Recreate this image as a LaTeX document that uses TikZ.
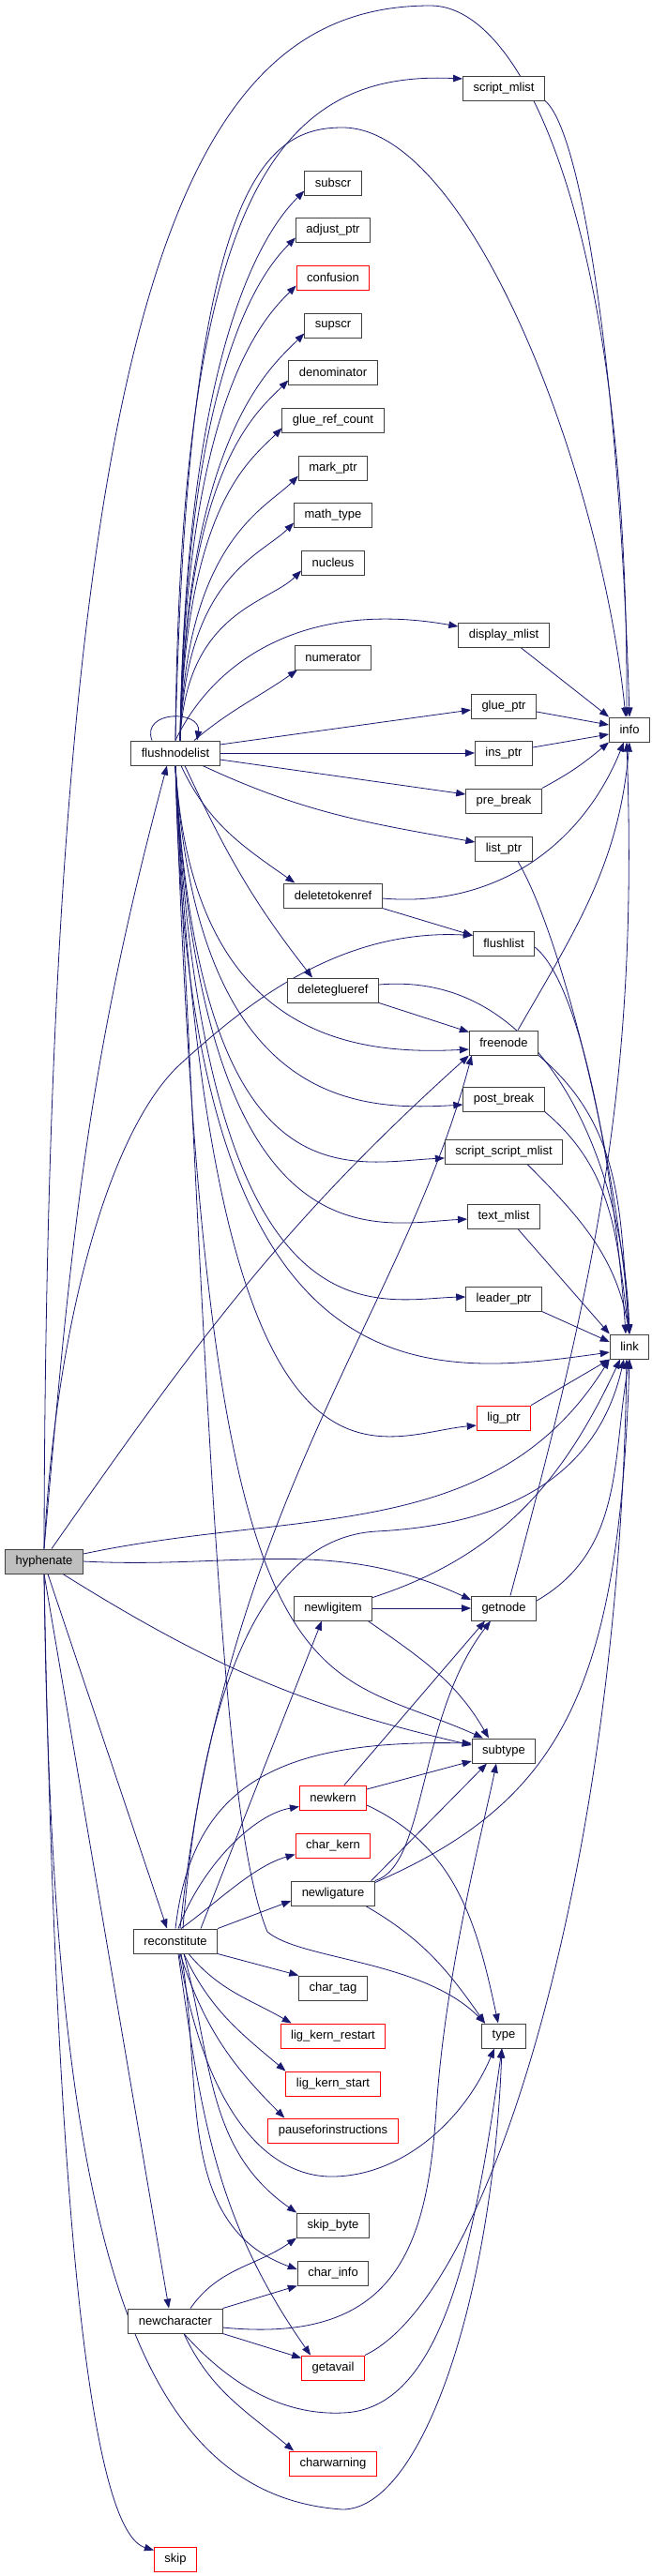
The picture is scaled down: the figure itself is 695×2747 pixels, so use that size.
\documentclass[tikz,border=0pt]{standalone}
\usepackage{fontspec}
\setmainfont{Liberation Sans}
\usetikzlibrary{arrows.meta, backgrounds}
\definecolor{eblue}{RGB}{25,25,112}
\definecolor{bgray}{RGB}{191,191,191}
\definecolor{nred} {RGB}{255,0,0}
\definecolor{bline}{RGB}{64,64,64}
\tikzset{
  % plain function box
  FN/.style={rectangle,draw=bline,fill=white,font=\fontsize{13}{15}\selectfont,
             inner xsep=11pt,inner ysep=0pt,minimum height=26pt,line width=1pt},
  % truncated function box (red frame)
  RN/.style={FN,draw=nred},
  % the function this graph is about
  HN/.style={FN,fill=bgray},
  % call edge
  Arr/.style={-{Triangle[length=10pt,width=7.5pt]},line width=0.8pt,color=eblue},
}

\begin{document}
\begin{tikzpicture}[x=1pt,y=1pt]
  \useasboundingbox (0,0) rectangle (695,-2747);
  % left column
  \node[HN] at (47,-1665)  (hyph)    {hyphenate};
  \node[FN] at (187,-803)  (fnl)     {flushnodelist};
  \node[FN] at (187,-2070) (recon)   {reconstitute};
  \node[FN] at (187,-2475) (newchar) {newcharacter};
  \node[RN] at (187,-2729) (skip)    {skip};
  % middle column
  \node[FN] at (355,-195)  (subscr)     {subscr};
  \node[FN] at (355,-245)  (adjptr)     {adjust\_ptr};
  \node[RN] at (355,-296)  (confusion)  {confusion};
  \node[FN] at (355,-347)  (supscr)     {supscr};
  \node[FN] at (355,-397)  (denom)      {denominator};
  \node[FN] at (355,-448)  (gluerc)     {glue\_ref\_count};
  \node[FN] at (355,-499)  (markptr)    {mark\_ptr};
  \node[FN] at (355,-549)  (mathtype)   {math\_type};
  \node[FN] at (355,-600)  (nucleus)    {nucleus};
  \node[FN] at (355,-701)  (numer)      {numerator};
  \node[FN] at (355,-955)  (deltok)     {deletetokenref};
  \node[FN] at (355,-1056) (delglue)    {deleteglueref};
  \node[FN] at (355,-1715) (newligitem) {newligitem};
  \node[RN] at (355,-1917) (newkern)    {newkern};
  \node[RN] at (355,-1968) (charkern)   {char\_kern};
  \node[FN] at (355,-2019) (newlig)     {newligature};
  \node[FN] at (355,-2120) (chartag)    {char\_tag};
  \node[RN] at (355,-2171) (ligkr)      {lig\_kern\_restart};
  \node[RN] at (355,-2222) (ligks)      {lig\_kern\_start};
  \node[RN] at (355,-2272) (pause)      {pauseforinstructions};
  \node[FN] at (355,-2373) (skipbyte)   {skip\_byte};
  \node[FN] at (355,-2424) (charinfo)   {char\_info};
  \node[RN] at (355,-2525) (getavail)   {getavail};
  \node[RN] at (355,-2627) (charwarn)   {charwarning};
  % right column
  \node[FN] at (537,-94)   (scriptml)  {script\_mlist};
  \node[FN] at (537,-677)  (displayml) {display\_mlist};
  \node[FN] at (537,-753)  (glueptr)   {glue\_ptr};
  \node[FN] at (537,-803)  (insptr)    {ins\_ptr};
  \node[FN] at (537,-854)  (prebreak)  {pre\_break};
  \node[FN] at (537,-905)  (listptr)   {list\_ptr};
  \node[FN] at (537,-1006) (flushlist) {flushlist};
  \node[FN] at (537,-1112) (freenode)  {freenode};
  \node[FN] at (537,-1172) (postbreak) {post\_break};
  \node[FN] at (537,-1228) (ssml)      {script\_script\_mlist};
  \node[FN] at (537,-1297) (textml)    {text\_mlist};
  \node[FN] at (537,-1385) (leaderptr) {leader\_ptr};
  \node[RN] at (537,-1512) (ligptr)    {lig\_ptr};
  \node[FN] at (537,-1715) (getnode)   {getnode};
  \node[FN] at (537,-1867) (subtype)   {subtype};
  \node[FN] at (537,-2171) (type)      {type};
  % far right
  \node[FN] at (671,-778)  (info) {info};
  \node[FN] at (671,-1436) (link) {link};

  \begin{scope}[on background layer]
    % hyphenate
    \draw[Arr] (hyph.north) .. controls (50,-300) and (200,-6) .. (459,-6)
               .. controls (560,-6) and (670,-250) .. ([xshift=-3pt]info.north);
    \draw[Arr] (hyph.north) to[out=85,in=-105] ([xshift=-9pt]fnl.south);
    \draw[Arr] (hyph.north) .. controls (60,-1400) and (120,-1200) .. (193,-1134)
               .. controls (260,-1073) and (360,-990) .. ([yshift=-5pt]flushlist.north west);
    \draw[Arr] ([xshift=8pt]hyph.north) to[out=55,in=-138] (freenode.south west);
    \draw[Arr] ([yshift=8pt]hyph.east) to[out=12,in=-122] (link.south west);
    \draw[Arr] (hyph.east) to[out=-3,in=155] ([yshift=9pt]getnode.west);
    \draw[Arr] ([xshift=20pt]hyph.south) to[out=-32,in=167] ([yshift=6pt]subtype.west);
    \draw[Arr] ([xshift=4pt]hyph.south) -- ([xshift=-9pt]recon.north);
    \draw[Arr] (hyph.south) -- ([xshift=-7pt]newchar.north);
    \draw[Arr] (hyph.south) .. controls (55,-2350) and (130,-2660) .. (365,-2676)
               .. controls (450,-2676) and (525,-2450) .. ([xshift=-2pt]type.south);
    \draw[Arr] (hyph.south) .. controls (60,-2400) and (100,-2700) .. ([yshift=-4pt]skip.north west);

    % flushnodelist, upwards
    \draw[Arr] ([xshift=-25pt]fnl.north) .. controls (150,-757) and (215,-757) .. ([xshift=23pt]fnl.north);
    \draw[Arr] (fnl.north) .. controls (192,-200) and (300,-75) .. ([yshift=10pt]scriptml.west);
    \draw[Arr] (fnl.north) .. controls (200,-200) and (280,-136) .. (365,-136)
               .. controls (500,-136) and (640,-500) .. ([xshift=-4pt]info.north);
    \foreach \t/\h in {subscr/440,adjptr/400,confusion/365,supscr/325,denom/290,
                       gluerc/250,markptr/212,mathtype/175,nucleus/137}
      \draw[Arr] ([xshift=5pt]fnl.north) .. controls +(6,\h) and +(-35,-35) .. ([yshift=5pt]\t.south west);
    \draw[Arr] (fnl.north) .. controls (230,-700) and (330,-640) .. ([yshift=9pt]displayml.west);
    \draw[Arr] ([xshift=20pt]fnl.north) to[out=40,in=-145] ([xshift=3pt]numer.south west);
    \draw[Arr] ([yshift=9pt]fnl.east) -- ([yshift=-4pt]glueptr.west);
    \draw[Arr] (fnl.east) -- (insptr.west);
    \draw[Arr] ([yshift=-7pt]fnl.east) -- ([yshift=7pt]prebreak.west);
    \draw[Arr] ([xshift=29pt]fnl.south) to[out=-25,in=170] ([yshift=7pt]listptr.west);

    % flushnodelist, downwards
    \draw[Arr] ([xshift=6pt]fnl.south) to[out=-65,in=145] ([xshift=12pt]deltok.north west);
    \draw[Arr] ([xshift=10pt]fnl.south) to[out=-65,in=128] ([xshift=-22pt]delglue.north);
    \draw[Arr] (fnl.south) .. controls (205,-1110) and (380,-1125) .. ([yshift=-7pt]freenode.west);
    \draw[Arr] (fnl.south) .. controls (210,-1180) and (380,-1185) .. ([yshift=-6pt]postbreak.west);
    \draw[Arr] (fnl.south) .. controls (212,-1290) and (370,-1240) .. ([yshift=-7pt]ssml.west);
    \draw[Arr] (fnl.south) .. controls (214,-1360) and (400,-1305) .. ([yshift=-3pt]textml.west);
    \draw[Arr] (fnl.south) .. controls (216,-1450) and (400,-1385) .. ([yshift=2pt]leaderptr.west);
    \draw[Arr] (fnl.south) .. controls (200,-1500) and (450,-1470) .. ([yshift=-6pt]link.west);
    \draw[Arr] (fnl.south) .. controls (225,-1650) and (400,-1530) .. ([yshift=-8pt]ligptr.west);
    \draw[Arr] (fnl.south) .. controls (220,-1850) and (330,-1770) .. ([xshift=-22pt]subtype.north);
    \draw[Arr] (fnl.south) .. controls (225,-1600) and (240,-1950) .. (285,-2060)
               .. controls (320,-2090) and (450,-2090) .. ([xshift=-20pt]type.north);

    % reconstitute
    \draw[Arr] ([xshift=27pt]recon.north) -- ([xshift=-12pt]newligitem.south);
    \draw[Arr] ([xshift=5pt]recon.north) .. controls (240,-1600) and (430,-1400) .. ([xshift=3pt]freenode.south west);
    \draw[Arr] ([xshift=8pt]recon.north) .. controls (215,-1800) and (280,-1640) .. (401,-1633)
               .. controls (560,-1625) and (640,-1560) .. ([xshift=-6pt]link.south);
    \draw[Arr] (recon.north) .. controls (205,-1900) and (300,-1855) .. ([yshift=8pt]subtype.west);
    \draw[Arr] ([xshift=3pt]recon.north) .. controls (215,-1990) and (270,-1935) .. ([yshift=4pt]newkern.south west);
    \draw[Arr] ([xshift=6pt]recon.north) .. controls (230,-2030) and (270,-1990) .. ([yshift=4pt]charkern.south west);
    \draw[Arr] (recon.north east) -- ([yshift=-8pt]newlig.west);
    \draw[Arr] (recon.south east) -- (chartag.north west);
    \draw[Arr] ([xshift=14pt]recon.south) to[out=-50,in=150] ([xshift=12pt]ligkr.north west);
    \draw[Arr] ([xshift=9pt]recon.south) to[out=-65,in=140] (ligks.north west);
    \draw[Arr] ([xshift=5pt]recon.south) to[out=-72,in=135] ([xshift=18pt]pause.north west);
    \draw[Arr] ([xshift=4pt]recon.south) .. controls (220,-2260) and (290,-2322) .. (355,-2321)
               .. controls (430,-2320) and (495,-2260) .. ([xshift=-10pt]type.south);
    \draw[Arr] ([xshift=9pt]recon.south) to[out=-75,in=145] (skipbyte.north west);
    \draw[Arr] ([xshift=6pt]recon.south) to[out=-80,in=160] ([yshift=4pt]charinfo.west);
    \draw[Arr] ([xshift=3pt]recon.south) to[out=-82,in=125] ([xshift=10pt]getavail.north west);

    % newligitem, newkern, newligature
    \draw[Arr] (newligitem.east) -- (getnode.west);
    \draw[Arr] ([yshift=-2pt]newligitem.north east) to[out=18,in=-115] ([xshift=-10pt]link.south);
    \draw[Arr] ([xshift=-5pt]newligitem.south east) to[out=-35,in=120] ([xshift=-16pt]subtype.north);
    \draw[Arr] ([xshift=12pt]newkern.north) -- ([xshift=-20pt]getnode.south);
    \draw[Arr] ([yshift=9pt]newkern.east) -- ([yshift=-11pt]subtype.west);
    \draw[Arr] ([yshift=-8pt]newkern.east) to[out=-25,in=102] ([xshift=-6pt]type.north);
    \draw[Arr] (newlig.north east) .. controls (455,-1990) and (445,-1830) .. ([xshift=-14pt]getnode.south);
    \draw[Arr] ([xshift=-4pt]newlig.north east) -- ([xshift=-18pt]subtype.south);
    \draw[Arr] ([yshift=-2pt]newlig.north east) .. controls (600,-1920) and (660,-1800) .. (link.south);
    \draw[Arr] ([xshift=-10pt]newlig.south east) to[out=-30,in=125] ([xshift=-20pt]type.north);

    % newcharacter, getavail
    \draw[Arr] ([xshift=16pt]newchar.north) to[out=55,in=-145] (skipbyte.south west);
    \draw[Arr] (newchar.north east) -- (charinfo.south west);
    \draw[Arr] (newchar.south east) -- ([yshift=-3pt]getavail.north west);
    \draw[Arr] ([xshift=9pt]newchar.south) to[out=-65,in=140] ([xshift=5pt]charwarn.north west);
    \draw[Arr] ([xshift=9pt]newchar.south) .. controls (260,-2560) and (320,-2575) .. (365,-2573)
               .. controls (470,-2570) and (505,-2400) .. ([xshift=-2pt]type.south);
    \draw[Arr] ([yshift=-7pt]newchar.east) .. controls (420,-2500) and (455,-2400) .. (465,-2250)
               .. controls (475,-2100) and (515,-1950) .. ([xshift=-8pt]subtype.south);
    \draw[Arr] (getavail.north east) .. controls (520,-2450) and (660,-2000) .. ([xshift=-3pt]link.south);

    % right column into info and link
    \draw[Arr] (scriptml.south east) .. controls (620,-140) and (660,-400) .. (info.north);
    \draw[Arr] ([xshift=18pt]displayml.south) -- (info.north west);
    \draw[Arr] ([yshift=-6pt]glueptr.east) -- ([yshift=5pt]info.west);
    \draw[Arr] ([yshift=6pt]insptr.east) -- ([yshift=-5pt]info.west);
    \draw[Arr] (prebreak.north east) to[out=28,in=-140] (info.south west);
    \draw[Arr] ([xshift=15pt]listptr.south) .. controls (600,-1000) and (660,-1250) .. (link.north);
    \draw[Arr] ([yshift=-3pt]deltok.east) to[out=-5,in=-112] ([xshift=-6pt]info.south);
    \draw[Arr] (deltok.south east) -- ([yshift=-5pt]flushlist.north west);
    \draw[Arr] ([yshift=-4pt]flushlist.east) .. controls (620,-1050) and (655,-1250) .. ([xshift=-4pt]link.north);
    \draw[Arr] (delglue.south east) -- ([yshift=-2pt]freenode.north west);
    \draw[Arr] ([yshift=6pt]delglue.east) to[out=5,in=92] (link.north);
    \draw[Arr] ([xshift=15pt]freenode.north) to[out=60,in=-95] (info.south);
    \draw[Arr] (freenode.south east) to[out=-40,in=95] (link.north);
    \draw[Arr] (postbreak.south east) to[out=-40,in=98] (link.north);
    \draw[Arr] ([xshift=25pt]ssml.south) to[out=-45,in=100] (link.north);
    \draw[Arr] ([xshift=15pt]textml.south) -- (link.north west);
    \draw[Arr] (leaderptr.south east) -- ([yshift=5pt]link.west);
    \draw[Arr] (ligptr.north east) -- (link.south west);
    \draw[Arr] ([xshift=7pt]getnode.north) to[out=75,in=-88] ([xshift=-3pt]info.south);
    \draw[Arr] ([yshift=8pt]getnode.east) to[out=30,in=-100] (link.south);
  \end{scope}
\end{tikzpicture}
\end{document}
